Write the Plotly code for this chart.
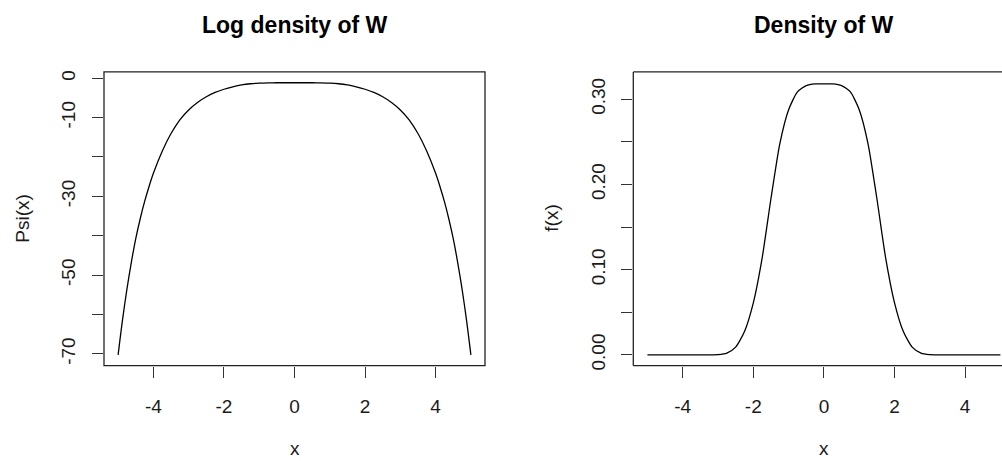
import plotly.graph_objects as go

# Grid of x values for the log density (finer near the steep tails)
x_psi = [-5.0, -4.875, -4.75, -4.625, -4.5, -4.375, -4.25, -4.125, -4.0, -3.75, -3.5,
         -3.25, -3.0, -2.75, -2.5, -2.25, -2.0, -1.75, -1.5, -1.25, -1.0, -0.75,
         -0.5, -0.25, 0.0, 0.25, 0.5, 0.75, 1.0, 1.25, 1.5, 1.75, 2.0, 2.25,
         2.5, 2.75, 3.0, 3.25, 3.5, 3.75, 4.0, 4.125, 4.25, 4.375, 4.5, 4.625,
         4.75, 4.875, 5.0]

# Log density Psi(x)
psi_vals = [-70.25, -61.35, -53.55, -46.75, -40.75, -35.75, -31.35, -27.55, -24.15, -18.55, -14.05,
            -10.55, -8.05, -6.15, -4.70, -3.60, -2.80, -2.18, -1.70, -1.40, -1.25, -1.18,
            -1.15, -1.145, -1.145, -1.145, -1.15, -1.18, -1.25, -1.40, -1.70, -2.18, -2.80, -3.60,
            -4.70, -6.15, -8.05, -10.55, -14.05, -18.55, -24.15, -27.55, -31.35, -35.75, -40.75, -46.75,
            -53.55, -61.35, -70.25]

# Grid of x values for the density
x_f = [-5.0, -4.75, -4.5, -4.25, -4.0, -3.75, -3.5, -3.25, -3.0, -2.75, -2.5,
       -2.25, -2.0, -1.75, -1.5, -1.25, -1.0, -0.75, -0.5, -0.25, 0.0,
       0.25, 0.5, 0.75, 1.0, 1.25, 1.5, 1.75, 2.0, 2.25, 2.5, 2.75,
       3.0, 3.25, 3.5, 3.75, 4.0, 4.25, 4.5, 4.75, 5.0]

# Density f(x)
f_vals = [0.0, 0.0, 0.0, 0.0, 0.0, 0.0, 0.0, 0.00003, 0.0003, 0.0021, 0.0091,
          0.0274, 0.0611, 0.1135, 0.1835, 0.2477, 0.2877, 0.3086, 0.316, 0.318, 0.318,
          0.318, 0.316, 0.3086, 0.2877, 0.2477, 0.1835, 0.1135, 0.0611, 0.0274, 0.0091, 0.0021,
          0.0003, 0.00003, 0.0, 0.0, 0.0, 0.0, 0.0, 0.0, 0.0]

x_ticks = [-4, -2, 0, 2, 4]
x_ticktext = ["-4", "-2", "0", "2", "4"]
psi_ticks = [-70, -60, -50, -40, -30, -20, -10, 0]
psi_ticktext = ["-70", "", "-50", "", "-30", "", "-10", "0"]
f_ticks = [0.0, 0.05, 0.10, 0.15, 0.20, 0.25, 0.30]
f_ticktext = ["0.00", "", "0.10", "", "0.20", "", "0.30"]

W, H = 1002, 461
FONT = "Liberation Sans, Arial, sans-serif"
INK = "#1a1a1a"

fig = go.Figure()
fig.add_trace(go.Scatter(x=x_psi, y=psi_vals, mode="lines",
                         line=dict(color="black", width=1.3, shape="spline", smoothing=0.8),
                         xaxis="x", yaxis="y", hoverinfo="skip"))
fig.add_trace(go.Scatter(x=x_f, y=f_vals, mode="lines",
                         line=dict(color="black", width=1.3, shape="spline", smoothing=0.6),
                         xaxis="x2", yaxis="y2", hoverinfo="skip"))

ydom = [(H - 369.3) / H, (H - 71) / H]
tick_font = dict(family=FONT, size=19, color=INK)
axis_common = dict(showgrid=False, zeroline=False, showline=False, ticks="outside",
                   ticklen=11, tickwidth=1.2, tickcolor="#333", tickfont=tick_font)

fig.update_layout(
    width=W, height=H, margin=dict(l=0, r=0, t=0, b=0),
    paper_bgcolor="white", plot_bgcolor="white", showlegend=False,
    xaxis=dict(domain=[104 / W, 485 / W], range=[-5.4, 5.4], tickvals=x_ticks,
               ticktext=x_ticktext, ticklabelstandoff=13, anchor="y", **axis_common),
    yaxis=dict(domain=ydom, range=[-73.0, 1.6], tickvals=psi_ticks, ticktext=psi_ticktext,
               tickangle=-90, ticklabelstandoff=9, anchor="x", **axis_common),
    xaxis2=dict(domain=[633.3 / W, 1.0], range=[-5.4, -5.4 + (W - 633.3) / 35.3],
                tickvals=x_ticks, ticktext=x_ticktext, ticklabelstandoff=13, anchor="y2",
                **axis_common),
    yaxis2=dict(domain=ydom, range=[-0.0127, 0.332], tickvals=f_ticks, ticktext=f_ticktext,
                tickangle=-90, ticklabelstandoff=9, anchor="x2", **axis_common),
)

# Plot frames
box_line = dict(color="#222", width=1.3)
fig.add_shape(type="rect", xref="x domain", yref="y domain", x0=0, x1=1, y0=0, y1=1,
              line=box_line, layer="above")
for (x0, y0, x1, y1) in [(0, 0, 1.02, 0), (0, 1, 1.02, 1), (0, 0, 0, 1)]:
    fig.add_shape(type="line", xref="x2 domain", yref="y2 domain",
                  x0=x0, y0=y0, x1=x1, y1=y1, line=box_line, layer="above")

# Titles and axis labels
title_font = dict(family=FONT, size=23, color="black")
label_font = dict(family=FONT, size=19, color=INK)
for cx, title, ylab, ylx in [(294.5, "Log density of W", "Psi(x)", 23),
                             (824, "Density of W", "f(x)", 552)]:
    fig.add_annotation(x=cx / W, y=(H - 23) / H, xref="paper", yref="paper",
                       text="<b>%s</b>" % title, showarrow=False, font=title_font,
                       xanchor="center", yanchor="middle")
    fig.add_annotation(x=cx / W, y=(H - 453) / H, xref="paper", yref="paper",
                       text="x", showarrow=False, font=label_font,
                       xanchor="center", yanchor="middle")
    fig.add_annotation(x=ylx / W, y=(H - 220) / H, xref="paper", yref="paper",
                       text=ylab, showarrow=False, font=label_font, textangle=-90,
                       xanchor="center", yanchor="middle")

fig.write_html("out.html")
